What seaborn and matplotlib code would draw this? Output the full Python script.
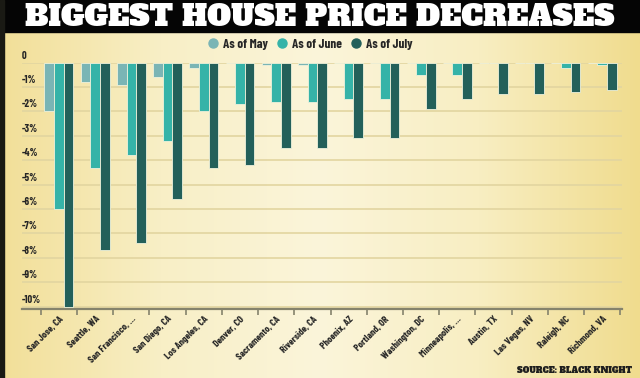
import numpy as np
import pandas as pd
import matplotlib
matplotlib.use("Agg")
import matplotlib.pyplot as plt
import matplotlib.transforms as mtransforms
from matplotlib.patches import Rectangle
from matplotlib.lines import Line2D
from matplotlib.colors import LinearSegmentedColormap
from matplotlib.font_manager import FontProperties, fontManager
import seaborn as sns

# ---- data ----
cities = ["San Jose, CA", "Seattle, WA", "San Francisco, …", "San Diego, CA",
          "Los Angeles, CA", "Denver, CO", "Sacramento, CA", "Riverside, CA",
          "Phoenix, AZ", "Portland, OR", "Washington, DC", "Minneapolis, …",
          "Austin, TX", "Las Vegas, NV", "Raleigh, NC", "Richmond, VA"]
may = [-2.0, -0.8, -0.9, -0.6, -0.2, 0.0, -0.1, -0.1, 0.0, 0.0, 0.0, 0.0, 0.0, 0.0, 0.0, 0.0]
june = [-6.0, -4.3, -3.8, -3.2, -2.0, -1.7, -1.6, -1.6, -1.5, -1.5, -0.5, -0.5, 0.0, 0.0, -0.2, -0.1]
july = [-10.0, -7.7, -7.4, -5.6, -4.3, -4.2, -3.5, -3.5, -3.1, -3.1, -1.9, -1.5, -1.3, -1.3, -1.2, -1.1]
series = ["As of May", "As of June", "As of July"]
yticks = [0, -1, -2, -3, -4, -5, -6, -7, -8, -9, -10]
ytick_labels = ["0", "-1%", "-2%", "-3%", "-4%", "-5%", "-6%", "-7%", "-8%", "-9%", "-10%"]
colors = ["#7ab5b5", "#35b3a8", "#23605a"]

df = pd.DataFrame({
    "city": cities * 3,
    "period": [s for s in series for _ in cities],
    "value": may + june + july,
})

available = {f.name for f in fontManager.ttflist}
def pick(cands, default="DejaVu Sans"):
    return next((c for c in cands if c in available), default)

COND = pick(["Barlow Condensed", "Roboto Condensed", "Fira Sans Condensed", "Archivo Narrow",
             "Asap Condensed", "Encode Sans Condensed"])
SLAB = pick(["Alfa Slab One", "Patua One", "Bree Serif"], "DejaVu Serif")
SLAB_W = "normal" if SLAB != "DejaVu Serif" else "bold"

def cfp(size):
    return FontProperties(family=COND, weight="bold", size=size)

W, H = 640, 378
fig = plt.figure(figsize=(W / 100, H / 100), dpi=100)
renderer = fig.canvas.get_renderer()

def fit_size(text, fp, target):
    t = fig.text(0, 0, text, fontproperties=fp)
    size = fp.get_size_in_points()
    for _ in range(3):
        t.set_fontsize(size)
        w = t.get_window_extent(renderer).width
        size = size * target / w
    t.remove()
    return size

# background
bg = fig.add_axes([0, 0, 1, 1], zorder=-10)
cmap = LinearSegmentedColormap.from_list("bg", ["#f2df98", "#f8efc6", "#fbf5da", "#f8eec2", "#f0dc8e"])
grad = np.linspace(0, 1, 256).reshape(1, -1)
bg.imshow(grad, aspect="auto", cmap=cmap, extent=[0, 1, 0, 1])
bg.set_xlim(0, 1); bg.set_ylim(0, 1)
bg.axis("off")
bg.add_patch(Rectangle((0, 1 - 32 / H), 1, 32 / H, color="#050505", zorder=5))
bg.add_patch(Rectangle((0, 0), 3.5 / W, 1, color="#1a1a14", zorder=5))

ax = fig.add_axes([22 / W, 1 - 309 / H, 600 / W, (309 - 62.7) / H])
ax.set_facecolor("none")
sns.barplot(data=df, x="city", y="value", hue="period", hue_order=series,
            palette=colors, saturation=1, width=0.8, ax=ax, edgecolor="#eef2dc", linewidth=0.6,
            legend=False, zorder=3)
ax.set_xlim(-1.02, 15.55)
ax.set_ylim(-10.1, 0)
ax.set_xlabel("")
ax.set_ylabel("")

for v in yticks:
    ax.axhline(v, color="#e2d5a0", lw=1.2, zorder=1)
for s in ["top", "right", "left"]:
    ax.spines[s].set_visible(False)
ax.spines["bottom"].set_color("#85836c")
ax.spines["bottom"].set_linewidth(1.6)

ax.set_yticks(yticks)
ax.set_yticklabels(ytick_labels)
ax.tick_params(axis="y", length=0, pad=0)
shift = mtransforms.ScaledTranslation(0, 2 / 100, fig.dpi_scale_trans)
for lab in ax.get_yticklabels():
    lab.set_horizontalalignment("left")
    lab.set_verticalalignment("bottom")
    lab.set_fontproperties(cfp(7.5))
    lab.set_color("#262626")
    lab.set_transform(lab.get_transform() + shift)

ax.set_xticks(range(len(cities)))
ax.set_xticklabels(cities, rotation=45, ha="right", rotation_mode="anchor",
                   fontproperties=cfp(7.2), color="#262626")
ax.tick_params(axis="x", which="major", length=0, pad=4)
ax.set_xticks(np.arange(-0.5, len(cities), 1.0), minor=True)
ax.tick_params(axis="x", which="minor", length=4, width=1.2, color="#85836c")

# title
tfp = FontProperties(family=SLAB, weight=SLAB_W, size=20)
tsize = fit_size("BIGGEST HOUSE PRICE DECREASES", tfp, 590)
fig.text(320 / W, 1 - 26.5 / H, "BIGGEST HOUSE PRICE DECREASES", ha="center", va="baseline",
         fontproperties=FontProperties(family=SLAB, weight=SLAB_W, size=tsize), color="white")

# legend
lsize = fit_size("As of May", cfp(9), 45)
handles = [Line2D([], [], marker="o", ls="", markersize=6.5, markerfacecolor=c,
                  markeredgecolor=c) for c in colors]
fig.legend(handles, series, loc="center", bbox_to_anchor=(310 / W, 1 - 44 / H),
           ncol=3, frameon=False, handlelength=0.8, handletextpad=0.35, columnspacing=0.7,
           prop=cfp(lsize), labelcolor="#262626")

# source
sfp = FontProperties(family=SLAB, weight=SLAB_W, size=7)
ssize = fit_size("SOURCE: BLACK KNIGHT", sfp, 115)
fig.text(632 / W, 1 - 373 / H, "SOURCE: BLACK KNIGHT", ha="right", va="baseline",
         fontproperties=FontProperties(family=SLAB, weight=SLAB_W, size=ssize), color="#1e1e1e")

fig.savefig("out.png", dpi=100)
